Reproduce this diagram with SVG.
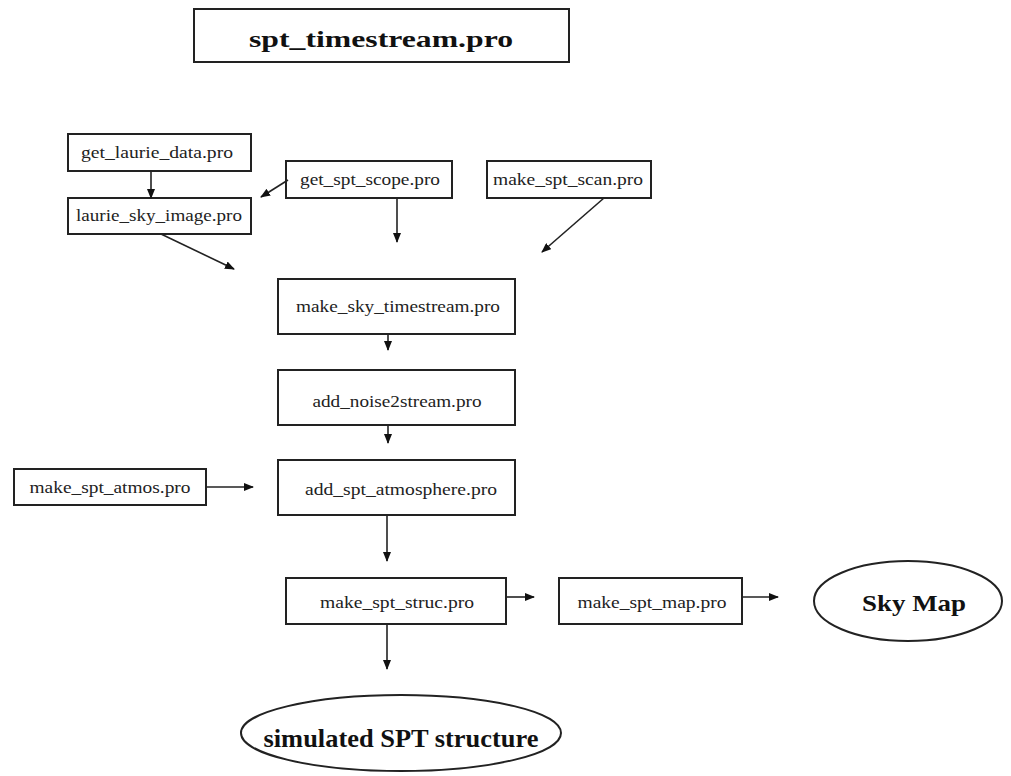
<svg xmlns="http://www.w3.org/2000/svg" width="1011" height="776" viewBox="0 0 1011 776">
<defs>
<style>
.box{fill:#fff;stroke:#222;stroke-width:2}
.lbl{font-family:"Liberation Serif",serif;font-size:16px;fill:#222;text-anchor:middle}
.big{font-family:"Liberation Serif",serif;font-weight:bold;fill:#111;text-anchor:middle}
.ln{stroke:#222;stroke-width:1.6;fill:none}
</style>
<marker id="ah" markerWidth="10" markerHeight="8" refX="9" refY="4" orient="auto" markerUnits="userSpaceOnUse">
<path d="M0,0 L10,4 L0,8 Z" fill="#111"/>
</marker>
</defs>
<rect width="1011" height="776" fill="#fff"/>
<g id="title"><rect class="box" x="194" y="9" width="375" height="53"/><text class="big" x="381" y="47" font-size="24" textLength="264" lengthAdjust="spacingAndGlyphs">spt_timestream.pro</text></g>
<g id="get_laurie_data"><rect class="box" x="68" y="134" width="183" height="37"/><text class="lbl" x="157" y="158" textLength="152" lengthAdjust="spacingAndGlyphs">get_laurie_data.pro</text></g>
<g id="laurie_sky_image"><rect class="box" x="68" y="198" width="183" height="36"/><text class="lbl" x="159" y="221" textLength="166" lengthAdjust="spacingAndGlyphs">laurie_sky_image.pro</text></g>
<g id="get_spt_scope"><rect class="box" x="286" y="161" width="166" height="37"/><text class="lbl" x="370" y="185" textLength="140" lengthAdjust="spacingAndGlyphs">get_spt_scope.pro</text></g>
<g id="make_spt_scan"><rect class="box" x="487" y="161" width="164" height="37"/><text class="lbl" x="568" y="185" textLength="150" lengthAdjust="spacingAndGlyphs">make_spt_scan.pro</text></g>
<g id="make_sky_timestream"><rect class="box" x="278" y="279" width="237" height="55"/><text class="lbl" x="398" y="312" textLength="204" lengthAdjust="spacingAndGlyphs">make_sky_timestream.pro</text></g>
<g id="add_noise2stream"><rect class="box" x="278" y="370" width="237" height="55"/><text class="lbl" x="397" y="407" textLength="169" lengthAdjust="spacingAndGlyphs">add_noise2stream.pro</text></g>
<g id="add_spt_atmosphere"><rect class="box" x="278" y="460" width="237" height="55"/><text class="lbl" x="401" y="495" textLength="192" lengthAdjust="spacingAndGlyphs">add_spt_atmosphere.pro</text></g>
<g id="make_spt_atmos"><rect class="box" x="14" y="469" width="192" height="36"/><text class="lbl" x="110" y="493" textLength="161" lengthAdjust="spacingAndGlyphs">make_spt_atmos.pro</text></g>
<g id="make_spt_struc"><rect class="box" x="286" y="578" width="220" height="46"/><text class="lbl" x="397" y="608" textLength="154" lengthAdjust="spacingAndGlyphs">make_spt_struc.pro</text></g>
<g id="make_spt_map"><rect class="box" x="559" y="578" width="183" height="46"/><text class="lbl" x="652" y="608" textLength="149" lengthAdjust="spacingAndGlyphs">make_spt_map.pro</text></g>
<g id="sky_map"><ellipse class="box" cx="908" cy="601" rx="94" ry="40"/><text class="big" x="914" y="611" font-size="24" textLength="104" lengthAdjust="spacingAndGlyphs">Sky Map</text></g>
<g id="simulated_spt_structure"><ellipse class="box" cx="401" cy="733" rx="160" ry="38"/><text class="big" x="401" y="747" font-size="25" textLength="275" lengthAdjust="spacingAndGlyphs">simulated SPT structure</text></g>
<g id="connectors">
<line class="ln" x1="151" y1="171" x2="151" y2="198" marker-end="url(#ah)"/>
<line class="ln" x1="288" y1="180" x2="261" y2="197" marker-end="url(#ah)"/>
<line class="ln" x1="161" y1="234" x2="234" y2="269" marker-end="url(#ah)"/>
<line class="ln" x1="397" y1="198" x2="397" y2="242" marker-end="url(#ah)"/>
<line class="ln" x1="604" y1="198" x2="542" y2="252" marker-end="url(#ah)"/>
<line class="ln" x1="388" y1="334" x2="388" y2="350" marker-end="url(#ah)"/>
<line class="ln" x1="388" y1="425" x2="388" y2="443" marker-end="url(#ah)"/>
<line class="ln" x1="206" y1="487" x2="253" y2="487" marker-end="url(#ah)"/>
<line class="ln" x1="387" y1="515" x2="387" y2="561" marker-end="url(#ah)"/>
<line class="ln" x1="506" y1="597" x2="534" y2="597" marker-end="url(#ah)"/>
<line class="ln" x1="387" y1="624" x2="387" y2="669" marker-end="url(#ah)"/>
<line class="ln" x1="742" y1="597" x2="778" y2="597" marker-end="url(#ah)"/>
</g>
</svg>
